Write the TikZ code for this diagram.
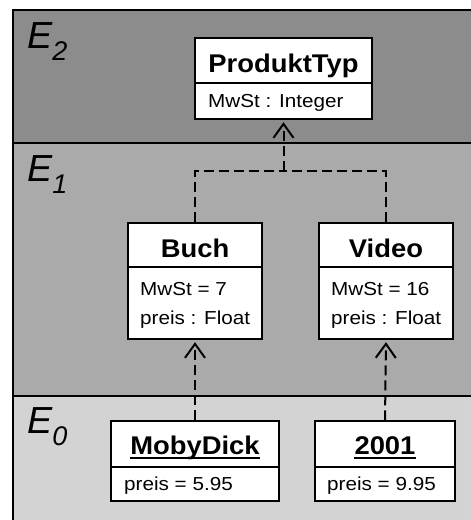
\documentclass[tikz,border=0pt]{standalone}
\usepackage{fontspec}
\setmainfont{Liberation Sans}
\newfontfamily\titlefont[FakeStretch=1.07]{Liberation Sans}
\newfontfamily\attrfont[FakeStretch=1.1]{Liberation Sans}
\usetikzlibrary{arrows.meta}
\definecolor{layA}{RGB}{140,140,140}
\definecolor{layB}{RGB}{170,170,170}
\definecolor{layC}{RGB}{211,211,211}
\tikzset{
  layer/.style={draw=black, line width=2pt},
  box/.style={draw=black, fill=white, line width=1.3pt, inner sep=0pt},
  titletext/.style={inner sep=0pt, anchor=base, font=\titlefont\bfseries\fontsize{25.6}{28}\selectfont},
  attrtext/.style={inner sep=0pt, anchor=base west, font=\attrfont\fontsize{18.8}{20}\selectfont},
  elabel/.style={inner sep=0pt, anchor=base west, font=\itshape\fontsize{37.7}{40}\selectfont},
  dep/.style={draw=black, line width=2pt, dash pattern=on 10pt off 5pt},
  deparrow/.style={dep, -{Straight Barb[length=14pt,width=20pt,line width=2pt]}, shorten >=2.5pt},
  uline/.style={line width=2pt}
}
\newcommand{\esub}[1]{\raisebox{-12pt}{\fontsize{27}{28}\selectfont #1}}
\begin{document}
\begin{tikzpicture}[x=1pt,y=-1pt]
\useasboundingbox (0,0) rectangle (471,520);
\clip (0,0) rectangle (471,520);
\fill[white] (0,0) rectangle (471,520);
% layers
\draw[layer, fill=layA] (13,10) rectangle (490,143);
\draw[layer, fill=layB] (13,143) rectangle (490,396);
\draw[layer, fill=layC] (13,396) rectangle (490,540);
\node[elabel] (e2) at (27,48.5) {E\esub{2}};
\node[elabel] (e1) at (27,181.7) {E\esub{1}};
\node[elabel] (e0) at (27,433) {E\esub{0}};
% ProduktTyp
\node[box, minimum width=177pt, minimum height=45pt] (pt) at (283.5,60.5) {};
\node[box, minimum width=177pt, minimum height=36pt] (pta) at (283.5,101) {};
\node[titletext] (ptt) at (283.5,72.7) {ProduktTyp};
\node[attrtext] (pta1) at (208,107) {MwSt : Integer};
% Buch
\node[box, minimum width=134pt, minimum height=44pt] (b) at (195,245) {};
\node[box, minimum width=134pt, minimum height=72pt] (ba) at (195,303) {};
\node[titletext] (bt) at (195,257.7) {Buch};
\node[attrtext] (ba1) at (140,295) {MwSt = 7};
\node[attrtext] (ba2) at (140,324) {preis : Float};
% Video
\node[box, minimum width=134pt, minimum height=44pt] (v) at (386,245) {};
\node[box, minimum width=134pt, minimum height=72pt] (va) at (386,303) {};
\node[titletext] (vt) at (386,257.7) {Video};
\node[attrtext] (va1) at (331,295) {MwSt = 16};
\node[attrtext] (va2) at (331,324) {preis : Float};
% MobyDick
\node[box, minimum width=168pt, minimum height=46pt] (md) at (195,444) {};
\node[box, minimum width=168pt, minimum height=34pt] (mda) at (195,484) {};
\node[titletext] (mdt) at (195,454) {MobyDick};
\node[attrtext] (mda1) at (124,490.7) {preis = 5.95};
\draw[uline] ([yshift=-4.3pt]mdt.base west) -- ([yshift=-4.3pt]mdt.base east);
% 2001
\node[box, minimum width=140pt, minimum height=46pt] (tw) at (385,444) {};
\node[box, minimum width=140pt, minimum height=34pt] (twa) at (385,484) {};
\node[titletext] (twt) at (385,454) {2001};
\node[attrtext] (twa1) at (327,490.7) {preis = 9.95};
\draw[uline] ([yshift=-4.3pt]twt.base west) -- ([yshift=-4.3pt]twt.base east);
% connectors
\coordinate (j) at (283.5,171);
\draw[dep] (b.north) |- (j);
\draw[dep] (v.north) |- (j);
\draw[deparrow] (j) -- (pta.south);
\draw[deparrow] (md.north) -- (ba.south);
\draw[deparrow] (tw.north) -- (va.south);
\end{tikzpicture}
\end{document}
